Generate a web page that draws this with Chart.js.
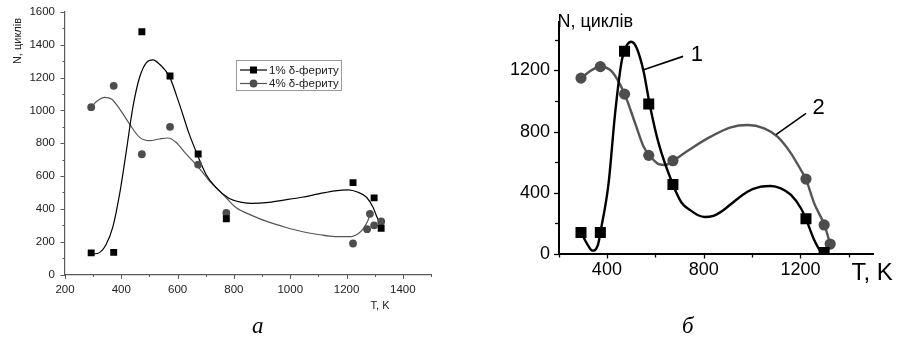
<!DOCTYPE html>
<html><head><meta charset="utf-8">
<script src="https://cdn.jsdelivr.net/npm/chart.js@4"></script>
<style>
html,body{margin:0;padding:0;background:#fff;width:905px;height:349px;overflow:hidden;position:relative}
canvas{position:absolute;top:0}
#ca{left:0}
#cb{left:455px}
.lab{position:absolute;font-family:'Liberation Serif','Times New Roman',serif;font-style:italic;font-size:23px;color:#000;top:313px;line-height:26px}
</style></head><body>
<canvas id="ca" width="450" height="320"></canvas>
<canvas id="cb" width="450" height="320"></canvas>
<div class="lab" style="left:252px">а</div>
<div class="lab" style="left:682px">б</div>
<script>
// ---- chart (а): measured points ----
const tempA1 = [293, 373, 473, 573, 673, 773, 1223, 1298, 1323];
const cycA1  = [132, 135, 1480, 1210, 735, 340, 560, 467, 282];
const tempA4 = [293, 373, 473, 573, 673, 773, 1223, 1273, 1283, 1298, 1323];
const cycA4  = [1020, 1150, 733, 900, 670, 375, 189, 276, 370, 300, 323];
// ---- chart (а): fitted curves ----
const fitTempA1 = [293, 315, 345, 370, 395, 418, 441, 465, 490, 512, 535, 571, 606, 641, 669, 700, 735, 782, 829, 865, 924, 983, 1041, 1100, 1159, 1206, 1241, 1271, 1294, 1308, 1318];
const fitCycA1  = [125, 128, 180, 290, 500, 755, 1019, 1202, 1293, 1308, 1283, 1206, 1040, 857, 735, 613, 532, 465, 440, 434, 440, 455, 471, 491, 510, 516, 501, 471, 410, 350, 310];
const fitTempA4 = [293, 312, 341, 365, 394, 429, 465, 500, 535, 565, 594, 630, 669, 712, 771, 806, 865, 924, 983, 1041, 1100, 1159, 1218, 1241, 1259, 1276, 1283];
const fitCycA4  = [1019, 1054, 1080, 1070, 1009, 918, 836, 816, 826, 832, 806, 735, 664, 573, 471, 410, 359, 319, 288, 262, 244, 231, 231, 248, 278, 329, 365];
const ticksAX = [200, 400, 600, 800, 1000, 1200, 1400];
const ticksAY = [0, 200, 400, 600, 800, 1000, 1200, 1400, 1600];
const legendLabelsA = ['1% δ-фериту', '4% δ-фериту'];

// ---- chart (б): measured points ----
const tempB1 = [293, 373, 473, 573, 673, 1223, 1298];
const cycB1  = [140, 140, 1325, 980, 455, 230, 10];
const tempB2 = [293, 373, 473, 573, 673, 1223, 1298, 1323];
const cycB2  = [1150, 1225, 1045, 645, 610, 490, 190, 65];
// ---- chart (б): fitted curves ----
const fitTempB1 = [293, 317, 340, 363, 373, 407, 434, 462, 483, 501, 524, 552, 577, 614, 672, 709, 746, 775, 805, 840, 880, 925, 981, 1036, 1078, 1119, 1161, 1202, 1223, 1257, 1285, 1299];
const fitCycB1  = [140, 70, 22, 59, 140, 462, 920, 1268, 1366, 1388, 1344, 1192, 978, 723, 458, 335, 285, 255, 242, 250, 285, 342, 407, 440, 445, 429, 386, 299, 229, 92, 15, 0];
const fitTempB2 = [293, 338, 373, 421, 473, 517, 552, 577, 614, 642, 672, 739, 829, 912, 981, 1050, 1105, 1161, 1202, 1223, 1257, 1299, 1323];
const fitCycB2  = [1150, 1203, 1224, 1192, 1046, 854, 701, 643, 588, 582, 608, 680, 767, 828, 843, 821, 767, 658, 549, 488, 331, 190, 65];
const ticksBX = [400, 800, 1200];
const ticksBY = [0, 400, 800, 1200];
const curveTagsB = ['1', '2'];
const tagFromT = [552, 1099], tagFromN = [1205, 780];
const tagToT = [715, 1223],   tagToN = [1292, 920];
const tagTextT = [772, 1275], tagTextN = [1300, 955];

const pts = (xs, ys) => xs.map((x, i) => ({x: x, y: ys[i]}));
const plain = v => String(v);
Chart.defaults.font.family = "'Liberation Sans', Arial, sans-serif";
Chart.defaults.animation = false;

function tickMarks(o) {
  return {
    id: 'tickMarks',
    afterDraw(chart) {
      const {ctx, scales: {x, y}} = chart;
      ctx.save();
      ctx.strokeStyle = o.color; ctx.lineWidth = o.lw;
      for (let v = x.min; v <= x.max + 1e-6; v += o.xMinor) {
        const px = Math.round(x.getPixelForValue(v)) + 0.5;
        const len = (Math.round(v) % o.xMajor === 0) ? o.major : o.minor;
        ctx.beginPath(); ctx.moveTo(px, y.bottom); ctx.lineTo(px, y.bottom + len); ctx.stroke();
      }
      for (let v = y.min; v <= y.max + 1e-6; v += o.yMinor) {
        const py = Math.round(y.getPixelForValue(v)) + 0.5;
        const len = (Math.round(v) % o.yMajor === 0) ? o.major : o.minor;
        ctx.beginPath(); ctx.moveTo(x.left, py); ctx.lineTo(x.left - len, py); ctx.stroke();
      }
      ctx.restore();
    }
  };
}

// ---------------- chart (а) ----------------
const textsA = {
  id: 'textsA',
  afterDraw(chart) {
    const {ctx} = chart;
    ctx.save();
    ctx.fillStyle = '#222';
    ctx.font = "11px 'Liberation Sans', Arial, sans-serif";
    ctx.textAlign = 'center'; ctx.textBaseline = 'middle';
    ctx.fillText('T, K', 380, 306);
    ctx.translate(18, 41); ctx.rotate(-Math.PI / 2);
    ctx.fillText('N, циклів', 0, 0);
    ctx.restore();
    // legend
    ctx.save();
    ctx.strokeStyle = '#9a9a9a'; ctx.lineWidth = 1;
    ctx.strokeRect(236.5, 60.5, 105, 30);
    const rows = [70, 83.5];
    const cols = ['#000', '#4d4d4d'];
    const lcols = ['#000', '#555'];
    rows.forEach((ry, i) => {
      ctx.strokeStyle = lcols[i]; ctx.lineWidth = 1.2;
      ctx.beginPath(); ctx.moveTo(240, ry); ctx.lineTo(267, ry); ctx.stroke();
      ctx.fillStyle = cols[i];
      if (i === 0) { ctx.fillRect(250, ry - 3.5, 7, 7); }
      else { ctx.beginPath(); ctx.arc(253.5, ry, 3.9, 0, Math.PI * 2); ctx.fill(); }
      ctx.fillStyle = '#222';
      ctx.font = "11.5px 'Liberation Sans', Arial, sans-serif";
      ctx.textAlign = 'left'; ctx.textBaseline = 'middle';
      ctx.fillText(legendLabelsA[i], 269, ry + 0.5);
    });
    ctx.restore();
  }
};

new Chart(document.getElementById('ca'), {
  type: 'scatter',
  data: {
    datasets: [
      {data: pts(tempA1, cycA1), pointStyle: 'rect', pointRadius: 4.9, backgroundColor: '#000', borderWidth: 0, order: 0},
      {data: pts(tempA4, cycA4), pointStyle: 'circle', pointRadius: 3.9, backgroundColor: '#4d4d4d', borderWidth: 0, order: 1},
      {data: pts(fitTempA1, fitCycA1), showLine: true, pointRadius: 0, borderColor: '#000', borderWidth: 1.2, cubicInterpolationMode: 'monotone', order: 2},
      {data: pts(fitTempA4, fitCycA4), showLine: true, pointRadius: 0, borderColor: '#555', borderWidth: 1.2, cubicInterpolationMode: 'monotone', order: 3}
    ]
  },
  options: {
    responsive: false, devicePixelRatio: 1, animation: false,
    layout: {padding: {left: 0, top: 12, right: 19, bottom: 0}},
    plugins: {legend: {display: false}, tooltip: {enabled: false}},
    scales: {
      x: {
        type: 'linear', min: 200, max: 1500,
        afterBuildTicks: s => { s.ticks = ticksAX.map(v => ({value: v})); },
        afterFit: s => { s.height = 45.5; },
        grid: {display: false, drawTicks: true, tickLength: 4},
        border: {display: true, color: '#5a5a5a', width: 1.2},
        ticks: {color: '#222', font: {size: 11.5}, padding: 4, maxRotation: 0, autoSkip: false, callback: plain}
      },
      y: {
        min: 0, max: 1600,
        afterBuildTicks: s => { s.ticks = ticksAY.map(v => ({value: v})); },
        afterFit: s => { s.width = 65; },
        grid: {display: false, drawTicks: true, tickLength: 5},
        border: {display: true, color: '#5a5a5a', width: 1.2},
        ticks: {color: '#222', font: {size: 11.5}, padding: 5, callback: plain}
      }
    }
  },
  plugins: [tickMarks({color: '#5a5a5a', lw: 1, xMinor: 100, xMajor: 200, yMinor: 100, yMajor: 200, major: 4.5, minor: 2.5}), textsA]
});

// ---------------- chart (б) ----------------
const textsB = {
  id: 'textsB',
  afterDraw(chart) {
    const {ctx, scales: {x, y}} = chart;
    ctx.save();
    ctx.fillStyle = '#000';
    ctx.font = "18px 'Liberation Sans', Arial, sans-serif";
    ctx.textAlign = 'left'; ctx.textBaseline = 'alphabetic';
    ctx.fillText('N, циклів', x.left - 1, 27);
    ctx.font = "24px 'Liberation Sans', Arial, sans-serif";
    ctx.fillText('T, K', 396.5, 280);
    // curve tags
    ctx.strokeStyle = '#000'; ctx.lineWidth = 1.6;
    ctx.font = "22px 'Liberation Sans', Arial, sans-serif";
    ctx.textAlign = 'center'; ctx.textBaseline = 'middle';
    curveTagsB.forEach((t, i) => {
      ctx.beginPath();
      ctx.moveTo(x.getPixelForValue(tagFromT[i]), y.getPixelForValue(tagFromN[i]));
      ctx.lineTo(x.getPixelForValue(tagToT[i]), y.getPixelForValue(tagToN[i]));
      ctx.stroke();
      ctx.fillText(t, x.getPixelForValue(tagTextT[i]), y.getPixelForValue(tagTextN[i]));
    });
    ctx.restore();
  }
};

new Chart(document.getElementById('cb'), {
  type: 'scatter',
  data: {
    datasets: [
      {data: pts(tempB1, cycB1), pointStyle: 'rect', pointRadius: 7.8, backgroundColor: '#000', borderWidth: 0, order: 0},
      {data: pts(tempB2, cycB2), pointStyle: 'circle', pointRadius: 5.6, backgroundColor: '#4d4d4d', borderWidth: 0, order: 1},
      {data: pts(fitTempB1, fitCycB1), showLine: true, pointRadius: 0, borderColor: '#000', borderWidth: 2.4, cubicInterpolationMode: 'monotone', order: 2},
      {data: pts(fitTempB2, fitCycB2), showLine: true, pointRadius: 0, borderColor: '#555', borderWidth: 2.4, cubicInterpolationMode: 'monotone', order: 3}
    ]
  },
  options: {
    responsive: false, devicePixelRatio: 1, animation: false,
    layout: {padding: {left: 0, top: 21.5, right: 32, bottom: 0}},
    plugins: {legend: {display: false}, tooltip: {enabled: false}},
    scales: {
      x: {
        type: 'linear', min: 200, max: 1500,
        afterBuildTicks: s => { s.ticks = ticksBX.map(v => ({value: v})); },
        afterFit: s => { s.height = 66; },
        grid: {display: false, drawTicks: true, tickLength: 4},
        border: {display: true, color: '#000', width: 2},
        ticks: {color: '#000', font: {size: 18}, padding: 1, maxRotation: 0, autoSkip: false, callback: plain}
      },
      y: {
        min: 0, max: 1520,
        afterBuildTicks: s => { s.ticks = ticksBY.map(v => ({value: v})); },
        afterFit: s => { s.width = 103.5; },
        grid: {display: false, drawTicks: true, tickLength: 4},
        border: {display: true, color: '#000', width: 2},
        ticks: {color: '#000', font: {size: 18}, padding: 4.5, callback: plain}
      }
    }
  },
  plugins: [tickMarks({color: '#000', lw: 1.3, xMinor: 200, xMajor: 400, yMinor: 200, yMajor: 400, major: 4.5, minor: 3.5}), textsB]
});
</script>
</body></html>
